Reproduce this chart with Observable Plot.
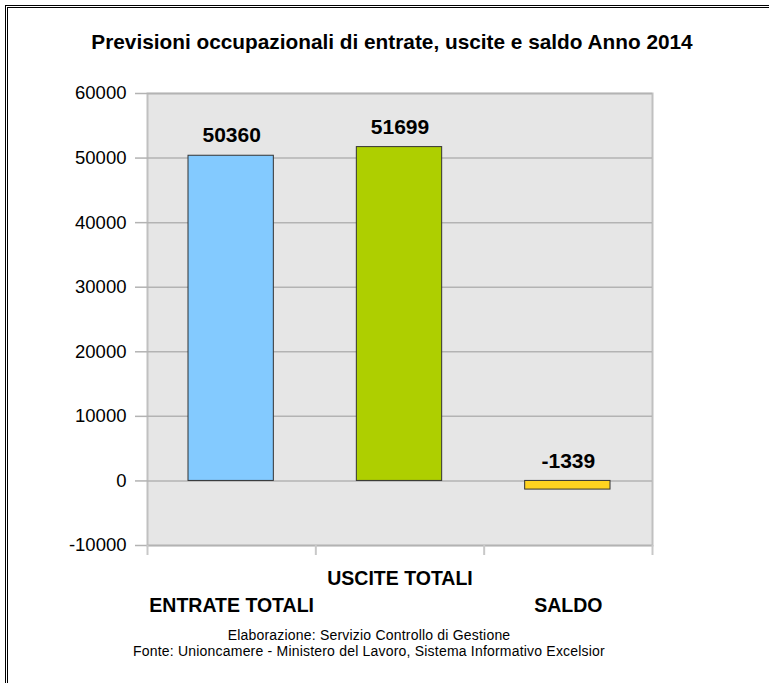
<!DOCTYPE html>
<html><head><meta charset="utf-8">
<script src="https://cdn.jsdelivr.net/npm/d3@7"></script>
<script src="https://cdn.jsdelivr.net/npm/@observablehq/plot@0.6"></script>
<style>
html,body{margin:0;padding:0;background:#fff;width:769px;height:683px;overflow:hidden;font-family:"Liberation Sans",Arial,sans-serif;}
#frame{position:absolute;left:5px;top:5px;width:800px;height:800px;border:3px double #000;box-sizing:border-box;}
#title{position:absolute;left:0;width:784px;top:30px;text-align:center;font-weight:bold;font-size:20.8px;line-height:24px;color:#000;}
#chart{position:absolute;left:0;top:70px;}
#footer{position:absolute;left:0;width:738px;top:627px;text-align:center;font-family:"Liberation Sans",Arial,sans-serif;font-size:14px;letter-spacing:0.2px;line-height:16px;color:#000;}
g[aria-label="y-axis tick"] path{stroke:#b3b3b3;stroke-width:1.5;}
g[aria-label="x-axis tick"] path{stroke:#c8c8c8;stroke-width:2;}
</style></head>
<body>
<div id="frame"></div>
<div id="title">Previsioni occupazionali di entrate, uscite e saldo Anno 2014</div>
<div id="chart"></div>
<div id="footer">Elaborazione: Servizio Controllo di Gestione<br>Fonte: Unioncamere - Ministero del Lavoro, Sistema Informativo Excelsior</div>
<script>
const categories = ["ENTRATE TOTALI", "USCITE TOTALI", "SALDO"];
const values = [50360, 51699, -1339];
const colors = ["#83caff", "#aecf00", "#ffd320"];
const yTicks = [-10000, 0, 10000, 20000, 30000, 40000, 50000, 60000];
const xBounds = [0, 1, 2, 3];

const data = categories.map((c, i) => ({cat: c, i, value: values[i], color: colors[i]}));

const chart = Plot.plot({
  width: 769,
  height: 550,
  marginLeft: 147,
  marginRight: 117,
  marginTop: 23,
  marginBottom: 75,
  style: {fontFamily: "'Liberation Sans', Arial, sans-serif", background: "transparent", color: "#000", overflow: "visible"},
  x: {domain: [0, 3], axis: null},
  y: {domain: [-10000, 60000], axis: null},
  marks: [
    Plot.frame({fill: "#e6e6e6", stroke: "#c0c0c0", strokeWidth: 2}),
    Plot.ruleY(yTicks, {stroke: "#b3b3b3", strokeWidth: 1.5}),
    Plot.axisY({ticks: yTicks, tickSize: 12, tickPadding: 9, fontSize: 18.5, label: null, tickFormat: d => String(d)}),
    Plot.axisX({ticks: xBounds, tickSize: 10, tickFormat: () => "", label: null, anchor: "bottom"}),
    Plot.rectY(data, {x1: d => d.i, x2: d => d.i + 1, y1: 0, y2: "value", fill: "color", stroke: "#333", strokeWidth: 1, insetLeft: 41, insetRight: 42}),
    Plot.text(data, {x: d => d.i + 0.5, y: d => Math.max(0, d.value), text: d => String(d.value), dy: -20, fontSize: 21, fontWeight: "bold", fill: "#000"}),
    Plot.text(data.filter(d => d.i % 2 === 1), {x: d => d.i + 0.5, y: -10000, text: "cat", dy: 33, fontSize: 19.5, fontWeight: "bold", fill: "#000", letterSpacing: "-0.4px"}),
    Plot.text(data.filter(d => d.i % 2 === 0), {x: d => d.i + 0.5, y: -10000, text: "cat", dy: 60, fontSize: 19.5, fontWeight: "bold", fill: "#000", letterSpacing: "-0.4px"})
  ]
});
document.getElementById("chart").appendChild(chart);
</script>
</body></html>
